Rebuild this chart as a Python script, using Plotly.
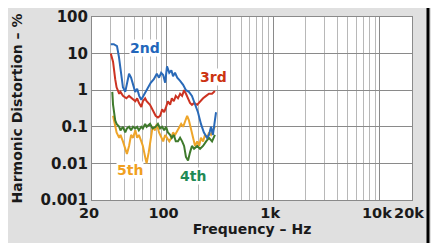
import math
import plotly.graph_objects as go

# ---- data ----
f2 = [30, 32, 34.3, 35.8, 37.4, 39, 41, 42.6, 44.5, 46.5, 48.6, 50.8, 53, 55.4, 57.9, 60.5, 63, 67, 71, 76, 81, 85, 89, 93, 97, 101, 106, 111, 115, 120, 126, 134, 143, 152, 162, 173, 185, 197, 210, 224, 240, 250, 261, 272, 284, 291]
h2 = [18, 18, 16, 8, 3, 1.2, 0.9, 1.5, 2.8, 2.2, 1.3, 0.9, 1.1, 0.7, 0.55, 0.7, 0.9, 1.2, 1.6, 2, 2.8, 2.2, 3, 2.6, 1.6, 4.5, 3, 3.5, 2.4, 3, 2.2, 1.8, 1.4, 1.0, 0.9, 0.7, 0.4, 0.25, 0.12, 0.07, 0.05, 0.06, 0.1, 0.06, 0.15, 0.25]

f3 = [30, 31.5, 33, 34, 36, 37, 39, 42, 44.5, 47.5, 51, 53, 55, 58, 60, 63, 65, 70, 74, 79, 83, 87, 91, 95, 99, 103, 108, 112, 117, 122, 128, 134, 140, 146, 152, 159, 166, 173, 181, 194, 206, 220, 235, 250, 267, 284]
h3 = [10, 6, 2, 1.2, 0.8, 0.9, 0.7, 0.6, 0.7, 0.6, 0.5, 0.6, 0.45, 0.35, 0.5, 0.6, 0.5, 0.4, 0.3, 0.2, 0.18, 0.2, 0.3, 0.25, 0.35, 0.5, 0.4, 0.6, 0.5, 0.7, 0.6, 0.8, 0.7, 1.0, 0.8, 0.6, 0.45, 0.4, 0.45, 0.4, 0.5, 0.6, 0.7, 0.8, 0.8, 0.95]

f4 = [31, 31.5, 33, 34, 36, 37, 39, 41, 42.5, 44.5, 46.5, 48.5, 51, 53, 55, 58, 60, 63, 65, 70, 74, 79, 83, 87, 91, 95, 99, 103, 108, 112, 117, 122, 128, 134, 140, 146, 152, 159, 166, 173, 181, 194, 206, 220, 235, 250, 267, 284]
h4 = [0.9, 0.4, 0.15, 0.12, 0.1, 0.08, 0.1, 0.07, 0.09, 0.1, 0.08, 0.1, 0.09, 0.1, 0.08, 0.1, 0.09, 0.12, 0.1, 0.12, 0.09, 0.1, 0.12, 0.09, 0.1, 0.08, 0.1, 0.07, 0.06, 0.05, 0.06, 0.04, 0.04, 0.05, 0.04, 0.03, 0.015, 0.012, 0.02, 0.03, 0.025, 0.03, 0.025, 0.03, 0.04, 0.05, 0.04, 0.06]

f5 = [31.5, 33, 34, 36, 37, 39, 41, 42.5, 44.5, 46.5, 48.5, 51, 53, 55, 58, 60, 63, 65, 68, 71, 74, 78, 81, 85, 89, 93, 97, 101, 106, 111, 115, 120, 126, 131, 137, 143, 149, 156, 162, 169, 177, 185, 194, 202, 210, 220, 229, 240, 250, 261, 272, 284]
h5 = [0.2, 0.1, 0.07, 0.05, 0.06, 0.04, 0.025, 0.018, 0.03, 0.06, 0.05, 0.08, 0.05, 0.06, 0.04, 0.03, 0.015, 0.01, 0.02, 0.05, 0.1, 0.08, 0.12, 0.07, 0.05, 0.04, 0.06, 0.05, 0.04, 0.05, 0.07, 0.06, 0.08, 0.1, 0.12, 0.1, 0.15, 0.2, 0.15, 0.09, 0.05, 0.03, 0.04, 0.03, 0.05, 0.04, 0.06, 0.05, 0.07, 0.06, 0.08, 0.1]

x_tickvals = [20, 100, 1000, 10000, 20000]
x_ticktext = ["20", "100", "1k", "10k", "20k"]
y_tickvals = [0.001, 0.01, 0.1, 1, 10, 100]
y_ticktext = ["0.001", "0.01", "0.1", "1", "10", "100"]

labels = ["2nd", "3rd", "4th", "5th"]
label_x = [63, 278, 177, 45]
label_y = [14, 2.3, 0.0045, 0.0066]

FONT = "DejaVu Sans"
line_colors = ["#2a6ab8", "#cc3322", "#3f7a2c", "#eea52a"]
label_colors = ["#2266bb", "#cc3311", "#1f8a55", "#f0a020"]

fig = go.Figure()
for f, h, c in [(f5, h5, line_colors[3]), (f4, h4, line_colors[2]),
                (f3, h3, line_colors[1]), (f2, h2, line_colors[0])]:
    fig.add_trace(go.Scatter(x=f, y=h, mode="lines",
                             line=dict(color=c, width=2), showlegend=False))

# annotations on log axes take log10 positions
for t, x, y, c in zip(labels, label_x, label_y, label_colors):
    fig.add_annotation(x=math.log10(x), y=math.log10(y), xref="x", yref="y",
                       text=t, showarrow=False,
                       font=dict(family=FONT, size=14, color=c, weight="bold"),
                       bgcolor="white", borderpad=0)

# scanned page edge at the right
fig.add_shape(type="line", xref="paper", yref="paper", layer="above",
              x0=1.05, x1=1.05, y0=-0.3, y1=1.1,
              line=dict(color="black", width=3))

fig.update_layout(
    width=439, height=243,
    margin=dict(l=84, r=35, t=9, b=51, autoexpand=False),
    paper_bgcolor="#e0e0e0", plot_bgcolor="white",
    font=dict(family=FONT, size=15, color="#1a1a1a", weight="bold"),
    xaxis=dict(type="log", range=[1.30103, 4.30103], automargin=False,
               tickvals=x_tickvals, ticktext=x_ticktext, tickangle=0,
               ticklabelshift=-3,
               showgrid=True, gridcolor="#8a8a8a", gridwidth=1,
               minor=dict(dtick="D1", showgrid=True, gridcolor="#b8b8b8", gridwidth=1),
               showline=True, mirror=True, linecolor="#8a8a8a",
               ticks="", tickfont=dict(size=14.5, weight="bold"),
               title=dict(text="Frequency – Hz", font=dict(size=14, weight="bold"), standoff=2)),
    yaxis=dict(type="log", range=[-3, 2], automargin=False,
               tickvals=y_tickvals, ticktext=y_ticktext,
               showgrid=True, gridcolor="#8a8a8a", gridwidth=1,
               showline=True, mirror=True, linecolor="#8a8a8a",
               ticks="", tickfont=dict(size=15, weight="bold"),
               title=dict(text="Harmonic Distortion – %", font=dict(size=14, weight="bold"), standoff=14)),
)

fig.write_html("out.html")
